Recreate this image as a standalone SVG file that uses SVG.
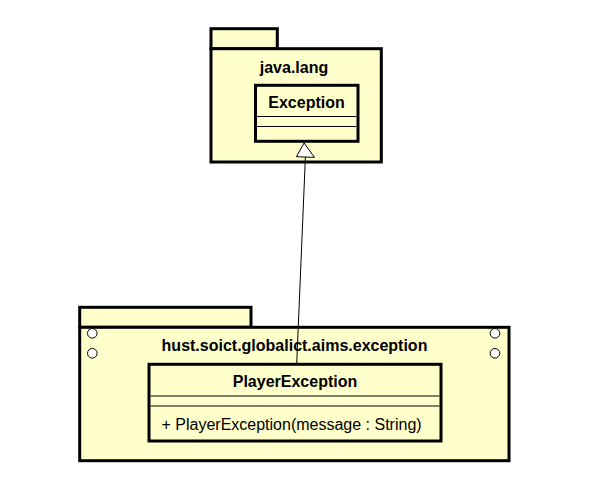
<svg xmlns="http://www.w3.org/2000/svg" width="602" height="487" viewBox="0 0 602 487">
<style>
.pkg{fill:#FFFFCC;stroke:#000;stroke-width:3}
.cls{fill:#FFFFCC;stroke:#000;stroke-width:3}
.div{stroke:#000;stroke-width:1}
.b{font-family:"Liberation Sans",Arial,sans-serif;font-size:16px;font-weight:bold;fill:#000;text-anchor:middle}
.r{font-family:"Liberation Sans",Arial,sans-serif;font-size:16px;fill:#000}
.hole{fill:#fff;stroke:#000;stroke-width:1}
.edge{stroke:#000;stroke-width:1;fill:none}
</style>
<rect width="602" height="487" fill="#fff"/>
<g id="pkg-java-lang">
<rect class="pkg" x="211" y="28.7" width="66.3" height="20"/>
<rect class="pkg" x="211" y="48.7" width="170.3" height="113.3"/>
<text class="b" x="294" y="73">java.lang</text>
</g>
<g id="cls-exception">
<rect class="cls" x="255.5" y="85.3" width="102.5" height="56"/>
<line class="div" x1="257" y1="116.5" x2="356.5" y2="116.5"/>
<line class="div" x1="257" y1="126.5" x2="356.5" y2="126.5"/>
<text class="b" x="306.5" y="107.5">Exception</text>
</g>
<g id="pkg-exception">
<rect class="pkg" x="79.7" y="307.3" width="171.3" height="20"/>
<rect class="pkg" x="79.7" y="327.3" width="429.3" height="133.4"/>
<circle class="hole" cx="92.3" cy="333.3" r="4.8"/>
<circle class="hole" cx="92.3" cy="353.3" r="4.8"/>
<circle class="hole" cx="495" cy="333.3" r="4.8"/>
<circle class="hole" cx="495" cy="353.3" r="4.8"/>
<text class="b" x="294.5" y="351">hust.soict.globalict.aims.exception</text>
</g>
<g id="cls-player-exception">
<rect class="cls" x="149" y="364.3" width="292" height="76.7"/>
<line class="div" x1="150.5" y1="396" x2="439.5" y2="396"/>
<line class="div" x1="150.5" y1="406" x2="439.5" y2="406"/>
<text class="b" x="295" y="386.5">PlayerException</text>
<text class="r" x="161.5" y="429.5">+ PlayerException(message : String)</text>
</g>
<g id="connectors">
<line class="edge" x1="305.4" y1="157" x2="296.7" y2="364"/>
<polygon points="304.1,143 296.4,156.7 314.4,157.4" fill="#fff" stroke="#000" stroke-width="1"/>
</g>
</svg>
